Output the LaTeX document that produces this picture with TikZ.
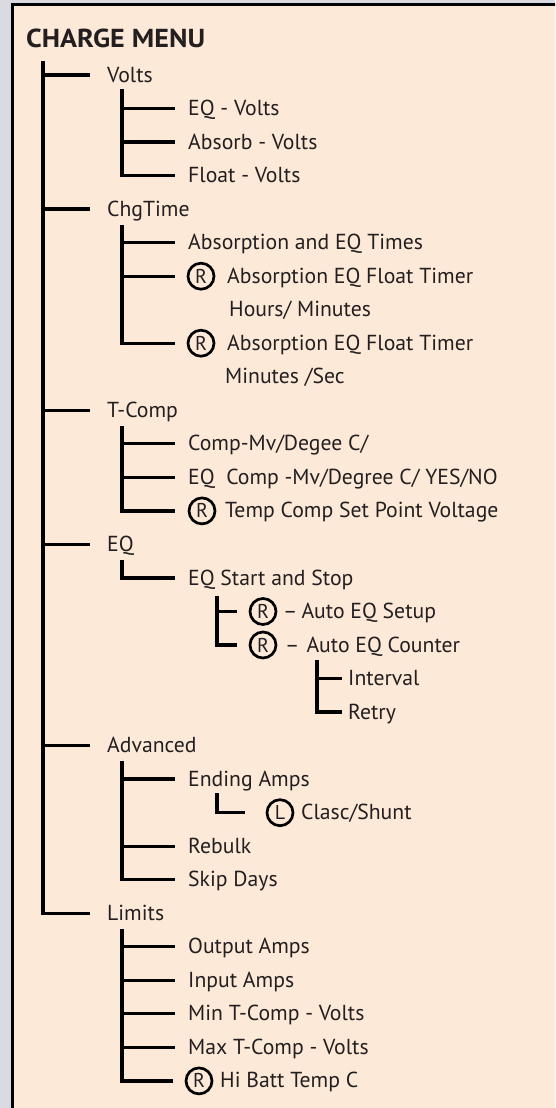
\documentclass[tikz,border=0pt]{standalone}
\usepackage{fontspec}
\setmainfont{PT Sans}
\newfontfamily\titlefont[FakeStretch=1.08]{PT Sans}
\definecolor{peach}{RGB}{253,233,216}
\definecolor{outside}{RGB}{218,218,224}
\definecolor{ink}{RGB}{35,31,32}
\begin{document}
\begin{tikzpicture}[x=1pt,y=-1pt,
  lbl/.style={anchor=west, inner sep=0pt, text height=14pt, text depth=0pt,
    font=\fontsize{21.7}{22}\selectfont, text=ink},
  rmark/.style={circle, draw=black, line width=2.7pt, minimum size=26pt, inner sep=0pt,
    text height=14pt, text depth=0pt, font=\fontsize{20}{20}\selectfont, text=ink},
  br/.style={line width=3.3pt, draw=black, line join=miter}]
\useasboundingbox (0,0) rectangle (555,1108);
\clip (0,0) rectangle (555,1108);
\fill[outside] (0,0) rectangle (555,1108);
\draw[line width=3pt, fill=peach] (12,5) rectangle (580,1140);

\node[anchor=base west, inner sep=0pt, font=\titlefont\bfseries\fontsize{26}{26}\selectfont, text=ink] (title) at (26,48) {CHARGE MENU};

% level 1
\node[lbl] (volts) at (107,75) {Volts};
\node[lbl] (chg) at (107,209.1) {ChgTime};
\node[lbl] (tcomp) at (107,410.3) {T-Comp};
\node[lbl] (eq) at (107,544.4) {EQ};
\node[lbl] (adv) at (107,745.6) {Advanced};
\node[lbl] (lim) at (107,913.3) {Limits};

% volts children
\node[lbl] (eqv) at (188,108.5) {EQ - Volts};
\node[lbl] (absv) at (188,142.1) {Absorb - Volts};
\node[lbl] (flv) at (188,175.6) {Float - Volts};

% chgtime children
\node[lbl] (abst) at (188,242.7) {Absorption and EQ Times};
\node[rmark] (r1) at (201,276.2) {R};
\node[lbl] (r1t) at (227,276.2) {Absorption EQ Float Timer};
\node[lbl] (r1u) at (229,309.7) {Hours/ Minutes};
\node[rmark] (r2) at (201,343.2) {R};
\node[lbl] (r2t) at (227,343.2) {Absorption EQ Float Timer};
\node[lbl] (r2u) at (225,376.8) {Minutes /Sec};

% tcomp children
\node[lbl] (cmv) at (188,443.8) {Comp-Mv/Degee C/};
\node[lbl] (eqc) at (188,477.4) {EQ~ Comp -Mv/Degree C/ YES/NO};
\node[rmark] (r3) at (202,510.9) {R};
\node[lbl] (r3t) at (225,510.9) {Temp Comp Set Point Voltage};

% eq children
\node[lbl] (start) at (188,578) {EQ Start and Stop};
\node[rmark] (r4) at (263,611.5) {R};
\node[lbl] (r4t) at (283,611.5) {–\hspace{4pt}Auto EQ Setup};
\node[rmark] (r5) at (263,645) {R};
\node[lbl] (r5t) at (285,645) {–\hspace{7pt}Auto EQ Counter};
\node[lbl] (intv) at (348,678.5) {Interval};
\node[lbl] (retry) at (348,712.1) {Retry};

% advanced children
\node[lbl] (end) at (188,779.1) {Ending Amps};
\node[rmark] (l1) at (280,812.7) {L};
\node[lbl] (l1t) at (301,812.7) {Clasc/Shunt};
\node[lbl] (reb) at (188,846.2) {Rebulk};
\node[lbl] (skip) at (188,879.7) {Skip Days};

% limits children
\node[lbl] (out) at (188,946.8) {Output Amps};
\node[lbl] (inp) at (188,980.3) {Input Amps};
\node[lbl] (minv) at (188,1013.8) {Min T-Comp - Volts};
\node[lbl] (maxv) at (188,1047.4) {Max T-Comp - Volts};
\node[rmark] (r6) at (199,1080.9) {R};
\node[lbl] (r6t) at (220,1080.9) {Hi Batt Temp C};

% trunks
\coordinate (t0) at (43,61);
\coordinate (tV) at (122,89);
\coordinate (tC) at (122,225);
\coordinate (tT) at (122,426);
\coordinate (tE) at (122,560);
\coordinate (tS) at (217,596);
\coordinate (tN) at (317,660);
\coordinate (tA) at (122,761);
\coordinate (tG) at (217,793);
\coordinate (tL) at (122,929);

% main trunk
\foreach \n in {volts,chg,tcomp,eq,adv}
  \draw[br] (t0 |- \n.west) -- ([xshift=-17pt]\n.west);
\draw[br] (t0) |- ([xshift=-17pt]lim.west);

% volts
\foreach \n in {eqv,absv}
  \draw[br] (tV |- \n.west) -- ([xshift=-13pt]\n.west);
\draw[br] (tV) |- ([xshift=-13pt]flv.west);

% chgtime
\draw[br] (tC |- abst.west) -- ([xshift=-13pt]abst.west);
\draw[br] (tC |- r1.west) -- ([xshift=-12pt]r1.west);
\draw[br] (tC) |- ([xshift=-12pt]r2.west);

% tcomp
\foreach \n in {cmv,eqc}
  \draw[br] (tT |- \n.west) -- ([xshift=-13pt]\n.west);
\draw[br] (tT) |- ([xshift=-13pt]r3.west);

% eq
\draw[br] (tE) |- ([xshift=-13pt]start.west);
\draw[br] (tS |- r4.west) -- ([xshift=-12pt]r4.west);
\draw[br] (tS) |- ([xshift=-12pt]r5.west);
\draw[br] (tN |- intv.west) -- ([xshift=-6pt]intv.west);
\draw[br] (tN) |- ([xshift=-6pt]retry.west);

% advanced
\foreach \n in {end,reb}
  \draw[br] (tA |- \n.west) -- ([xshift=-13pt]\n.west);
\draw[br] (tA) |- ([xshift=-13pt]skip.west);
\draw[br] (tG) |- ([xshift=-21pt]l1.west);

% limits
\foreach \n in {out,inp,minv,maxv}
  \draw[br] (tL |- \n.west) -- ([xshift=-13pt]\n.west);
\draw[br] (tL) |- ([xshift=-12pt]r6.west);
\end{tikzpicture}
\end{document}
